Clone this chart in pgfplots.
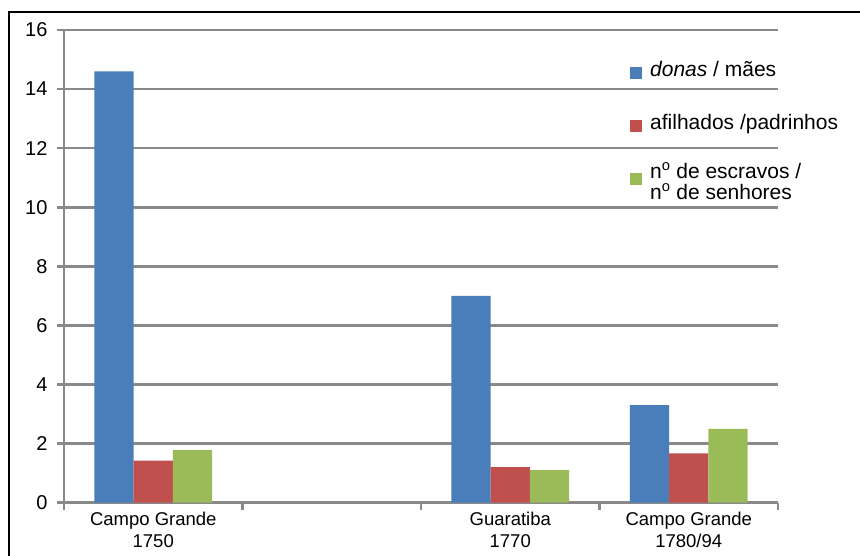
\documentclass[border=0pt]{standalone}
\usepackage{fontspec}
\setmainfont{Liberation Sans}
\usepackage{pgfplots}
\pgfplotsset{compat=1.18}
\definecolor{barblue}{HTML}{4A7EBB}
\definecolor{barred}{HTML}{C0504D}
\definecolor{bargreen}{HTML}{9BBB59}
\definecolor{gridgray}{HTML}{898989}

% every legend row is 53pt tall, with the text baseline in its middle
\newcommand{\legrow}[2][0pt]{\raisebox{#1}[26.5pt][26.5pt]{#2}}

\begin{document}
\begin{tikzpicture}
\useasboundingbox (0,0) rectangle (860pt,556pt);
% outer frame (runs past the right and bottom edges)
\draw[line width=1.3pt] (9pt,-20pt) -- (9pt,544pt) -- (880pt,544pt);
\begin{axis}[
  at={(64pt,53.3pt)}, anchor=south west,
  scale only axis, width=714pt, height=472.7pt,
  ybar=0pt, bar width=39.3pt,
  xmin=-0.5, xmax=3.5, ymin=0, ymax=16,
  ytick={0,2,...,16},
  xtick={-0.5,0.5,1.5,2.5,3.5},
  xticklabels={},
  extra x ticks={0,2,3},
  extra x tick labels={{Campo Grande\\1750},{Guaratiba\\1770},{Campo Grande\\1780/94}},
  extra x tick style={major tick length=0pt, grid=none},
  axis lines*=left,
  axis line style={gridgray, line width=2.6pt, -},
  ymajorgrids, grid style={gridgray, line width=2.6pt},
  tick align=outside,
  major tick length=7pt,
  tick style={gridgray, line width=2.6pt},
  /pgf/number format/assume math mode=true,
  y tick label style={font=\fontsize{20}{22}\selectfont, xshift=-6pt},
  x tick label style={font=\fontsize{18.5}{22}\selectfont, align=center, yshift=-6pt},
  legend style={draw=none, fill=none, at={(0.7927,0.9588)}, anchor=north west,
    inner sep=0pt, row sep=0pt, column sep=0pt,
    font=\fontsize{21}{18.4}\selectfont,
    nodes={inner sep=0pt, text depth=}},
  legend cell align=left,
  legend image code/.code={\fill[#1] (0pt,-3pt) rectangle (12pt,9pt);
    \path[fill=none, draw=none] (0pt,-9pt) rectangle (20pt,9pt);},
]
\addplot[fill=barblue, draw=none] coordinates {(0,14.6) (2,7.0) (3,3.3)};
\addplot[fill=barred, draw=none] coordinates {(0,1.42) (2,1.2) (3,1.67)};
\addplot[fill=bargreen, draw=none] coordinates {(0,1.78) (2,1.1) (3,2.5)};
\addlegendentry{\legrow{\textit{donas} / mães}}
\addlegendentry{\legrow{afilhados /padrinhos}}
\addlegendentry{\legrow[3.7pt]{\begin{tabular}[t]{@{}l@{}}n\textsuperscript{o} de escravos /\\n\textsuperscript{o} de senhores\end{tabular}}}
\end{axis}
\end{tikzpicture}
\end{document}
